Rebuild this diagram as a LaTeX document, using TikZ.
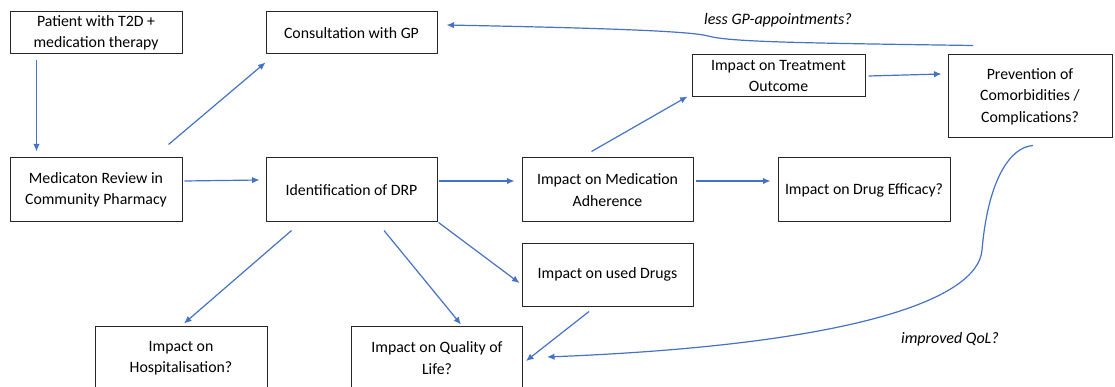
\documentclass[tikz,border=0pt]{standalone}
\usepackage{fontspec}
\setmainfont{Carlito}
\usetikzlibrary{arrows.meta}
\definecolor{arrblue}{HTML}{4472C4}
\tikzset{
  box/.style={draw=black!85, line width=1pt, fill=white, align=center, inner sep=0pt,
    font=\fontsize{15.8}{21.5}\selectfont},
  arr/.style={draw=arrblue, line width=1.2pt, -{Latex[length=7.5pt,width=6.5pt]}},
  lbl/.style={font=\fontsize{16}{18}\selectfont\itshape, inner sep=0pt}
}
\begin{document}
\begin{tikzpicture}[x=1pt,y=-1pt]
\useasboundingbox (0,0) rectangle (1115,387);
\node[box, minimum width=172, minimum height=42] (patient) at (96,33) {Patient with T2D +\\medication therapy};
\node[box, minimum width=171, minimum height=42] (gp) at (351.5,33) {Consultation with GP};
\node[box, minimum width=173, minimum height=42] (outcome) at (778.5,76) {Impact on Treatment\\Outcome};
\node[box, minimum width=164, minimum height=83] (prev) at (1030,96.5) {Prevention of\\Comorbidities /\\Complications?};
\node[box, minimum width=172, minimum height=64] (review) at (96,190) {Medicaton Review in\\Community Pharmacy};
\node[box, minimum width=171, minimum height=64] (drp) at (351.5,190) {Identification of DRP};
\node[box, minimum width=171, minimum height=64] (adher) at (607.5,190) {Impact on Medication\\Adherence};
\node[box, minimum width=172, minimum height=64] (eff) at (864,190) {Impact on Drug Efficacy?};
\node[box, minimum width=171, minimum height=63] (used) at (607.5,274.5) {Impact on used Drugs};
\node[box, minimum width=172, minimum height=64] (hosp) at (181,358) {Impact on\\Hospitalisation?};
\node[box, minimum width=171, minimum height=64] (qol) at (437,358) {Impact on Quality of\\Life?};

\draw[arr] ([shift={(27,6)}]patient.south west) -- ([shift={(27,-6)}]review.north west);
\draw[arr] ([shift={(-14,-13)}]review.north east) -- ([shift={(0,8)}]gp.south west);
\draw[arr] ([shift={(2,-9)}]review.east) -- ([shift={(-6,-10)}]drp.west);
\draw[arr] ([shift={(1,-9)}]drp.east) -- ([shift={(-7,-9)}]adher.west);
\draw[arr] ([shift={(-16,-6)}]adher.north) -- ([shift={(-4,-1)}]outcome.south west);
\draw[arr] ([shift={(2,-9)}]adher.east) -- ([shift={(-7,-9)}]eff.west);
\draw[arr] ([shift={(3,0)}]outcome.east) -- ([shift={(-6,-22.5)}]prev.west);
\draw[arr] ([shift={(1,0)}]drp.south east) -- ([shift={(-2,8.5)}]used.west);
\draw[arr] ([shift={(26,8)}]drp.south west) -- ([shift={(3,-2)}]hosp.north);
\draw[arr] ([shift={(32.5,8)}]drp.south) -- ([shift={(24,-1)}]qol.north);
\draw[arr] ([shift={(-18.5,5)}]used.south) -- ([shift={(3,3)}]qol.east);
\draw[arr] ([shift={(3,7)}]prev.south) .. controls (1010,147) and (988,180) .. (982,250)
  .. controls (978,300) and (850,345) .. ([shift={(24,-1)}]qol.east);
\draw[arr] ([shift={(-57,-9)}]prev.north) .. controls (800,43) and (730,42) .. (708,36)
  .. controls (690,31) and (600,28) .. ([shift={(9,-8)}]gp.east);

\node[lbl] (lessgp) at (778,20) {less GP-appointments?};
\node[lbl] (impqol) at (950,339) {improved QoL?};
\end{tikzpicture}
\end{document}
